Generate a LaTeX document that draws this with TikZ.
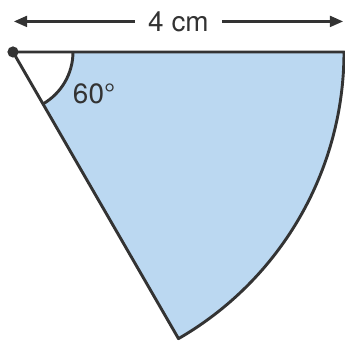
\documentclass[tikz,border=0pt]{standalone}
\usepackage{fontspec}
\setmainfont{TeX Gyre Heros}
\usetikzlibrary{arrows.meta}
\definecolor{sk-line}{HTML}{333333}
\definecolor{sk-fill}{HTML}{BBD8F1}
\begin{document}
\begin{tikzpicture}[>={Triangle[length=1.6mm,width=1.3mm]}]

    % caixa fixa com as margens da figura
    \useasboundingbox (-0.157,-3.492) rectangle (4.012,0.628);

    % --- PONTOS DO SETOR ---
    \coordinate (centro) at (0,0);
    \coordinate (raioA) at (4,0);
    \coordinate (raioB) at (-60:4);

    % setor preenchido, com a cunha do angulo em branco
    \fill[sk-fill] (centro) -- (raioA) arc (0:-60:4) -- cycle;
    \fill[white] (centro) -- (0.725,0) arc (0:-60:0.725) -- cycle;
    \draw[sk-line, line width=1pt, line join=round]
        (centro) -- (raioA) arc (0:-60:4) -- cycle;

    % arco do angulo e rotulo
    \draw[sk-line, line width=1pt] (0.725,0) arc (0:-60:0.725);
    \node[sk-line, font=\fontsize{9.6}{11}\selectfont] (angulo) at (0.98,-0.50) {60°};

    % ponto do centro
    \filldraw[sk-line] (centro) circle (0.06);

    % --- COTA SUPERIOR ---
    \coordinate (cotaE) at (0.01,0.369);
    \coordinate (cotaD) at (3.99,0.369);
    \node[sk-line, font=\fontsize{9.6}{11}\selectfont, inner xsep=4.5pt] (cota) at (2.0,0.369) {4 cm};
    \draw[->, sk-line, line width=0.9pt] (cota.west) -- (cotaE);
    \draw[->, sk-line, line width=0.9pt] (cota.east) -- (cotaD);

\end{tikzpicture}
\end{document}
